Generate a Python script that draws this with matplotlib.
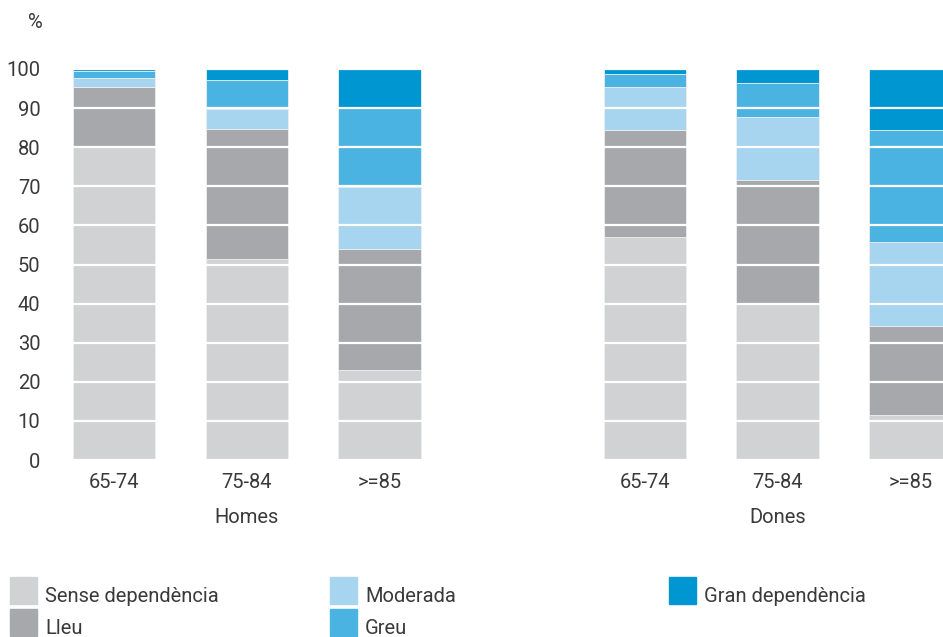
import numpy as np
import matplotlib
matplotlib.use("Agg")
import matplotlib.pyplot as plt
from matplotlib.patches import Rectangle

plt.rcParams['font.family'] = ['Roboto', 'DejaVu Sans']

# age groups and dependency levels (percent of each age group)
ages = ["65-74", "75-84", ">=85"]
groups = ["Homes", "Dones"]
levels = ["Sense dependència", "Lleu", "Moderada", "Greu", "Gran dependència"]
colors = ["#d1d2d4", "#a7a8ac", "#a7d4ee", "#4ab3e2", "#0096d1"]

homes = {
    "Sense dependència": [80.3, 51.5, 23.1],
    "Lleu": [15.2, 33.2, 30.9],
    "Moderada": [2.3, 5.0, 15.7],
    "Greu": [1.8, 7.5, 20.5],
    "Gran dependència": [0.4, 2.8, 9.8],
}
dones = {
    "Sense dependència": [57.1, 40.0, 11.4],
    "Lleu": [27.4, 31.5, 22.9],
    "Moderada": [11.0, 16.2, 21.4],
    "Greu": [3.3, 8.6, 28.8],
    "Gran dependència": [1.2, 3.7, 15.5],
}

W, H = 943, 637
fs = 14.5
txt = "#3a3a3a"
fig = plt.figure(figsize=(W / 100, H / 100), dpi=100)
ax_left, ax_bottom, ax_top = 60, 460, 69
ax = fig.add_axes([ax_left / W, (H - ax_bottom) / H, 1 - ax_left / W, (ax_bottom - ax_top) / H])

x = np.array([0, 1, 2, 4, 5, 6])
bottom = np.zeros(6)
for lev, col in zip(levels, colors):
    vals = np.array(homes[lev] + dones[lev])
    ax.bar(x, vals, bottom=bottom, width=0.62, color=col, edgecolor="#eeeeee",
           linewidth=0.6, zorder=1)
    bottom += vals

ax.set_ylim(0, 100)
ax.set_xlim((ax_left - 114) / 132.7, (W - 114) / 132.7)
ax.set_yticks(range(0, 101, 10))
ax.yaxis.grid(True, color="white", linewidth=1.6, zorder=3)
ax.set_axisbelow(False)
for s in ax.spines.values():
    s.set_visible(False)
ax.tick_params(axis="both", length=0, labelsize=fs, colors=txt)
ax.tick_params(axis="y", pad=14)
ax.tick_params(axis="x", pad=9)
ax.set_xticks(x)
ax.set_xticklabels(ages + ages)

fig.text(35 / W, 1 - 22 / H, "%", fontsize=fs, color=txt, ha="center", va="center")
for xi, g in zip([1, 5], groups):
    ax.text(xi, -14.6, g, fontsize=fs, color=txt, ha="center", va="center")

# legend, three columns of two rows
lx = [10, 330, 669]
ly = [577, 609]
for i, (lev, col) in enumerate(zip(levels, colors)):
    cx, cy = lx[i // 2], ly[i % 2]
    fig.patches.append(Rectangle((cx / W, 1 - (cy + 27) / H), 27 / W, 27 / H,
                                 transform=fig.transFigure, color=col))
    fig.text((cx + 35) / W, 1 - (cy + 19) / H, lev, fontsize=fs, color=txt,
             ha="left", va="center")

fig.savefig("out.png", dpi=100)
